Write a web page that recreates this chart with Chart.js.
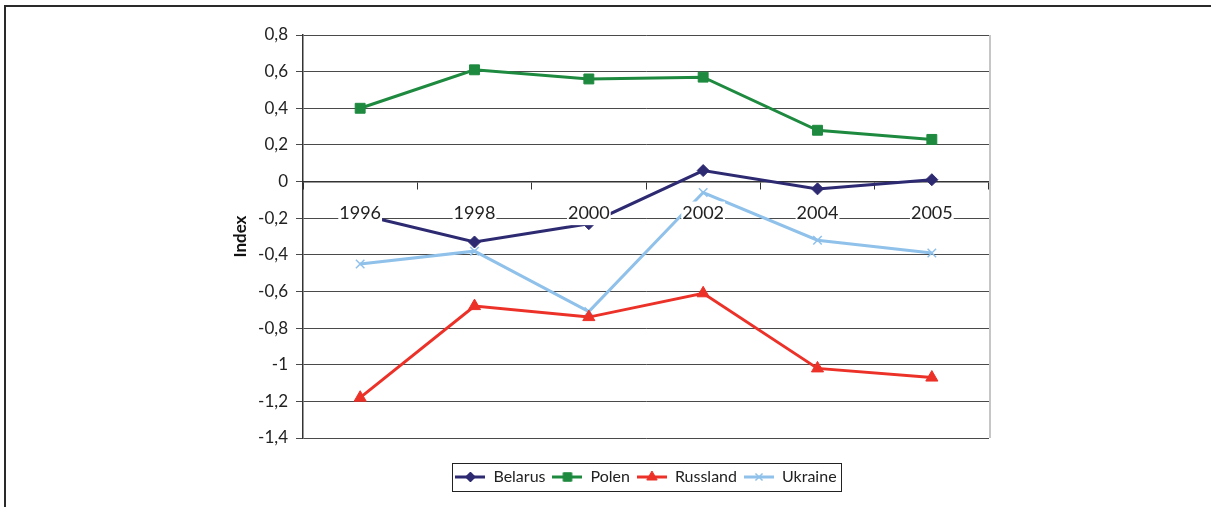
<!DOCTYPE html>
<html>
<head>
<meta charset="utf-8">
<script src="https://cdn.jsdelivr.net/npm/chart.js@4/dist/chart.umd.min.js"></script>
<style>
  html, body { margin: 0; padding: 0; background: #fff; }
  #wrap { position: relative; width: 1211px; height: 507px; overflow: hidden; }
  #frame { position: absolute; left: 4px; top: 5px; right: -10px; bottom: -10px;
           border-left: 2px solid #2a2a2a; border-top: 2px solid #2a2a2a; }
  canvas { position: absolute; left: 0; top: 0; }
</style>
</head>
<body>
<div id="wrap">
  <div id="frame"></div>
  <canvas id="indexChart" width="1211" height="507"></canvas>
</div>
<script>
// data
const years = ['1996', '1998', '2000', '2002', '2004', '2005'];
const belarus = [-0.18, -0.33, -0.23, 0.06, -0.04, 0.01];
const polen = [0.40, 0.61, 0.56, 0.57, 0.28, 0.23];
const russland = [-1.18, -0.68, -0.74, -0.61, -1.02, -1.07];
const ukraine = [-0.45, -0.38, -0.71, -0.06, -0.32, -0.39];
const yMin = -1.4, yMax = 0.8, yStep = 0.2;

const FONT = 'Lato, "DejaVu Sans", sans-serif';

function series(label, data, color, style, radius, pw) {
  return {
    label: label,
    data: data,
    borderColor: color,
    backgroundColor: color,
    borderWidth: 3,
    tension: 0,
    pointStyle: style,
    pointRadius: radius,
    pointHoverRadius: radius,
    pointBorderWidth: pw,
    pointBackgroundColor: color,
    pointBorderColor: color
  };
}

const datasets = [
  series('Belarus', belarus, '#2d2a72', 'rectRot', 6, 1),
  series('Polen', polen, '#1e8a3f', 'rect', 7, 1),
  series('Russland', russland, '#ec3128', 'triangle', 7, 1),
  series('Ukraine', ukraine, '#8fc1ea', 'crossRot', 6, 1.5)
];

// little line+marker pictures for the legend
function legendIcon(ds) {
  const c = document.createElement('canvas');
  c.width = 30; c.height = 14;
  const g = c.getContext('2d');
  g.strokeStyle = ds.borderColor;
  g.lineWidth = 3;
  g.beginPath(); g.moveTo(0, 7); g.lineTo(30, 7); g.stroke();
  g.fillStyle = ds.backgroundColor;
  g.lineWidth = ds.pointBorderWidth;
  Chart.helpers.drawPoint(g, { pointStyle: ds.pointStyle, radius: ds.pointRadius - 1, rotation: 0, borderWidth: ds.pointBorderWidth }, 15, 7);
  return c;
}
const icons = datasets.map(legendIcon);

const extras = {
  id: 'extras',
  afterDraw(chart) {
    const ctx = chart.ctx;
    const a = chart.chartArea;
    ctx.save();
    // light right edge of the plot
    ctx.strokeStyle = '#c6c6c6';
    ctx.lineWidth = 2;
    ctx.beginPath(); ctx.moveTo(a.right + 1, a.top); ctx.lineTo(a.right + 1, a.bottom); ctx.stroke();
    // legend frame
    const hb = chart.legend.legendHitBoxes;
    if (hb && hb.length) {
      const l = hb[0].left - 3;
      const r = hb[hb.length - 1].left + hb[hb.length - 1].width + 5;
      const t = hb[0].top - 6;
      const b = hb[0].top + hb[0].height + 6;
      ctx.strokeStyle = '#222';
      ctx.lineWidth = 1;
      ctx.strokeRect(Math.round(l) + 0.5, Math.round(t) + 0.5, Math.round(r - l), Math.round(b - t));
    }
    ctx.restore();
  }
};

new Chart(document.getElementById('indexChart'), {
  type: 'line',
  data: { labels: years, datasets: datasets },
  options: {
    responsive: false,
    animation: false,
    layout: { padding: { left: 228, right: 222, top: 35, bottom: 12 } },
    plugins: {
      tooltip: { enabled: false },
      legend: {
        position: 'bottom',
        fullSize: false,
        labels: {
          usePointStyle: true,
          pointStyleWidth: 30,
          padding: 7,
          color: '#222',
          font: { family: FONT, size: 16 },
          generateLabels(chart) {
            const items = Chart.defaults.plugins.legend.labels.generateLabels(chart);
            items.forEach((it, i) => { it.pointStyle = icons[i]; });
            return items;
          }
        }
      }
    },
    scales: {
      x: {
        type: 'category',
        position: { y: 0 },
        offset: true,
        grid: { offset: true, drawOnChartArea: false, drawTicks: true, tickLength: 7, color: '#333' },
        border: { color: '#333', width: 1.5 },
        ticks: {
          z: 1,
          padding: 14,
          color: '#222',
          font: { family: FONT, size: 18 },
          showLabelBackdrop: true,
          backdropColor: '#fff',
          backdropPadding: { x: 1, y: 1 },
          maxRotation: 0
        }
      },
      x2: {
        type: 'category',
        position: 'bottom',
        grid: { display: false },
        border: { display: false },
        ticks: { display: false },
        afterFit(s) { s.height = 24; }
      },
      y: {
        min: yMin,
        max: yMax,
        afterFit(s) { s.width = 75; },
        grid: { color: '#4a4a4a', lineWidth: 1, tickLength: 7 },
        border: { color: '#333', width: 1.5 },
        ticks: {
          stepSize: yStep,
          padding: 8,
          color: '#222',
          font: { family: FONT, size: 17 },
          callback: v => (Math.round(v * 10) / 10).toString().replace('.', ',')
        },
        title: {
          display: true,
          text: 'Index',
          color: '#111',
          font: { family: FONT, size: 17, weight: 'bold' },
          padding: { top: 2, bottom: 4 }
        }
      }
    }
  },
  plugins: [extras]
});
</script>
</body>
</html>
